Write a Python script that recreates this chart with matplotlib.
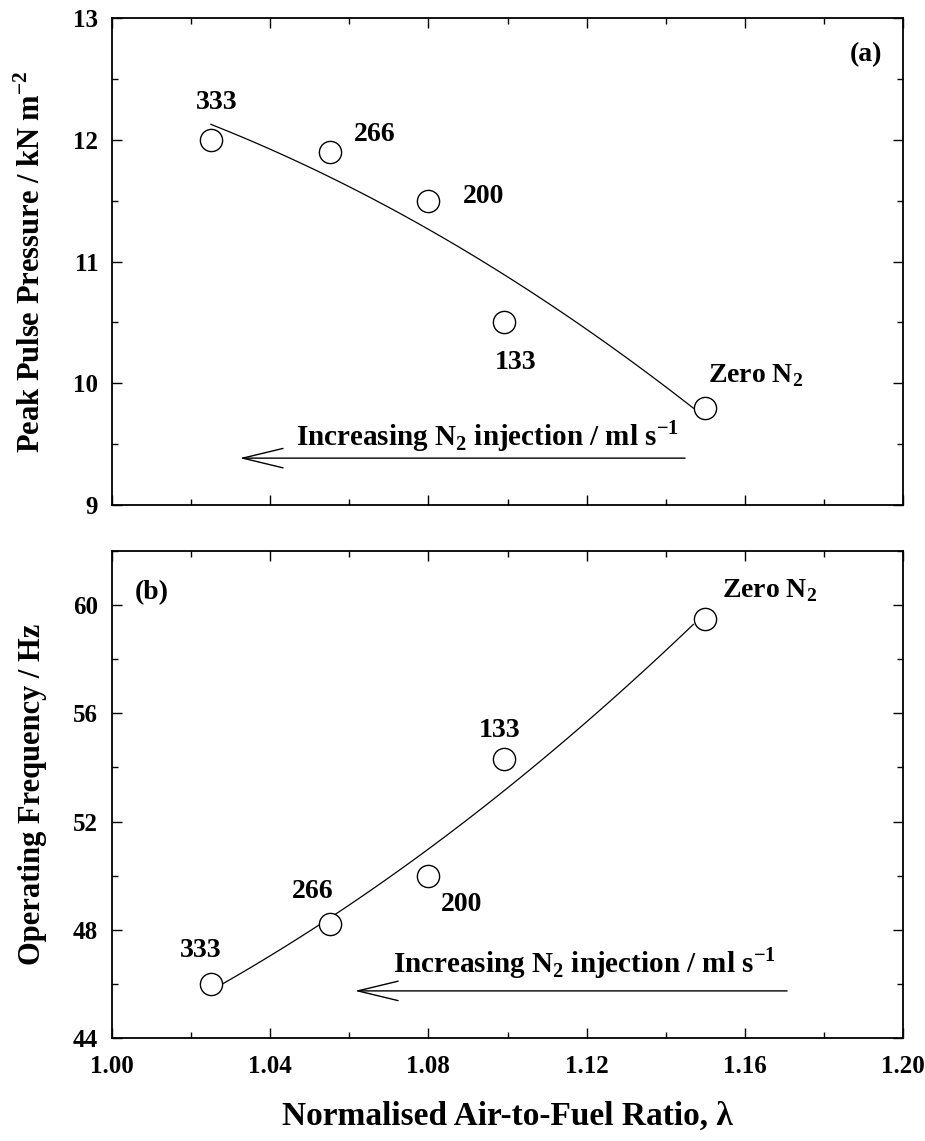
import numpy as np
import matplotlib
matplotlib.use('Agg')
import matplotlib.pyplot as plt
from matplotlib.ticker import MultipleLocator

# -*- coding: utf-8 -*-
# N2 injection rates (ml/s) and normalised air-to-fuel ratio for each run
inj_labels = ['333', '266', '200', '133', 'Zero N$_\\mathbf{2}$']
lam = [1.025, 1.055, 1.080, 1.099, 1.150]

# (a) peak pulse pressure, kN/m2
pressure = [12.0, 11.9, 11.5, 10.5, 9.8]
# (b) operating frequency, Hz
freq = [46.0, 48.2, 50.0, 54.3, 59.5]

plt.rcParams['font.family'] = 'Liberation Serif'
plt.rcParams['font.weight'] = 'bold'
plt.rcParams['mathtext.fontset'] = 'custom'
plt.rcParams['mathtext.rm'] = 'Liberation Serif'
plt.rcParams['mathtext.bf'] = 'Liberation Serif:bold'
plt.rcParams['axes.linewidth'] = 1.3

fig = plt.figure(figsize=(9.25, 11.41), dpi=100)
axA = fig.add_axes([0.1211, 0.5574, 0.8551, 0.4268])
axB = fig.add_axes([0.1211, 0.0903, 0.8551, 0.4268])

arrow_txt = 'Increasing N$_\\mathbf{2}$ injection / ml s$^{\\mathbf{-1}}$'
lab_fs = 20
arrow_style = '->,head_length=2.9,head_width=0.7'


def draw_panel(ax, x, y, dy_major, dy_minor):
    x = np.array(x)
    y = np.array(y)
    # quadratic trend through the runs
    coef = np.polyfit(x, y, 2)
    xf = np.linspace(x.min(), x.max() - 0.003, 100)
    ax.plot(xf, np.polyval(coef, xf), color='black', lw=0.9)
    ax.plot(x, y, 'o', ms=16, mfc='white', mec='black', mew=1.0)
    ax.set_xlim(1.0, 1.2)
    ax.xaxis.set_major_locator(MultipleLocator(0.04))
    ax.xaxis.set_minor_locator(MultipleLocator(0.02))
    ax.yaxis.set_major_locator(MultipleLocator(dy_major))
    ax.yaxis.set_minor_locator(MultipleLocator(dy_minor))
    ax.tick_params(which='both', direction='in', top=True, right=True,
                   labelsize=18, width=1.0)
    ax.tick_params(which='major', length=7)
    ax.tick_params(which='minor', length=4)
    ax.tick_params(axis='y', pad=10)
    ax.tick_params(axis='x', pad=12)
    for lab in ax.get_xticklabels() + ax.get_yticklabels():
        lab.set_fontweight('bold')


# ---- (a) peak pulse pressure
draw_panel(axA, lam, pressure, 1, 0.5)
axA.set_ylim(9, 13)
axA.tick_params(axis='x', labelbottom=False)
axA.set_ylabel('Peak Pulse Pressure / kN m$^{\\mathbf{-2}}$', fontsize=22,
               fontweight='bold')
axA.yaxis.set_label_coords(-0.082, 0.5)

posA = [(1.0265, 12.31, 'center'), (1.0665, 12.04, 'center'),
        (1.094, 11.53, 'center'), (1.102, 10.17, 'center'),
        (1.1507, 10.06, 'left')]
for (tx, ty, ha), lab in zip(posA, inj_labels):
    axA.text(tx, ty, lab, fontsize=lab_fs, fontweight='bold', ha=ha, va='center')
axA.text(1.1906, 12.70, '(a)', fontsize=lab_fs, fontweight='bold',
         ha='center', va='center')
axA.annotate('', xy=(1.0316, 9.385), xytext=(1.1456, 9.385),
             arrowprops=dict(arrowstyle=arrow_style, lw=1.0, color='black'))
axA.text(1.0466, 9.49, arrow_txt, fontsize=21, fontweight='bold',
         ha='left', va='baseline')

# ---- (b) operating frequency
draw_panel(axB, lam, freq, 4, 2)
axB.set_ylim(44, 62)
axB.set_yticks([44, 48, 52, 56, 60])
axB.set_xticks([1.00, 1.04, 1.08, 1.12, 1.16, 1.20])
axB.set_xticklabels(['1.00', '1.04', '1.08', '1.12', '1.16', '1.20'],
                    fontweight='bold')
axB.set_ylabel('Operating Frequency / Hz', fontsize=22, fontweight='bold')
axB.yaxis.set_label_coords(-0.082, 0.5)
axB.set_xlabel('Normalised Air-to-Fuel Ratio, λ', fontsize=24,
               fontweight='bold', labelpad=17)

posB = [(1.0223, 47.25, 'center'), (1.0508, 49.40, 'center'),
        (1.0885, 48.95, 'center'), (1.0981, 55.38, 'center'),
        (1.1542, 60.52, 'left')]
for (tx, ty, ha), lab in zip(posB, inj_labels):
    axB.text(tx, ty, lab, fontsize=lab_fs, fontweight='bold', ha=ha, va='center')
axB.text(1.0101, 60.48, '(b)', fontsize=lab_fs, fontweight='bold',
         ha='center', va='center')
axB.annotate('', xy=(1.0607, 45.74), xytext=(1.1714, 45.74),
             arrowprops=dict(arrowstyle=arrow_style, lw=1.0, color='black'))
axB.text(1.0710, 46.44, arrow_txt, fontsize=21, fontweight='bold',
         ha='left', va='baseline')

fig.savefig('out.png', dpi=100)
